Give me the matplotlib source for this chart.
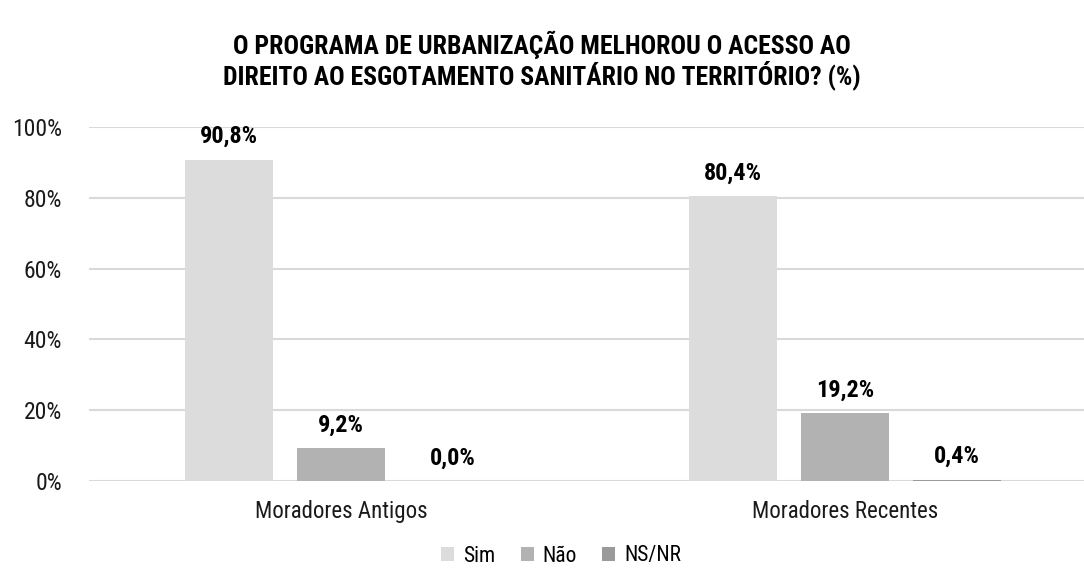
import matplotlib
matplotlib.use("Agg")
import matplotlib.pyplot as plt
from matplotlib import font_manager
import numpy as np

categories = ["Moradores Antigos", "Moradores Recentes"]
series_names = ["Sim", "Não", "NS/NR"]
sim = [90.8, 80.4]
nao = [9.2, 19.2]
nsnr = [0.0, 0.4]
labels_sim = ["90,8%", "80,4%"]
labels_nao = ["9,2%", "19,2%"]
labels_nsnr = ["0,0%", "0,4%"]
colors = ["#DCDCDC", "#B2B2B2", "#9A9A9A"]
yticks = [0, 20, 40, 60, 80, 100]
ytick_labels = ["0%", "20%", "40%", "60%", "80%", "100%"]
title = "O PROGRAMA DE URBANIZAÇÃO MELHOROU O ACESSO AO\nDIREITO AO ESGOTAMENTO SANITÁRIO NO TERRITÓRIO? (%)"

avail = {f.name for f in font_manager.fontManager.ttflist}
fam = "Roboto Condensed" if "Roboto Condensed" in avail else "Roboto"
plt.rcParams["font.family"] = [fam, "DejaVu Sans"]

fig = plt.figure(figsize=(10.84, 5.75), dpi=100)
W, H = 1084, 575
ax = fig.add_axes([89 / W, 1 - 481 / H, (1097 - 89) / W, (481 - 127) / H])

x = np.arange(len(categories))
bw = 88 / 504
off = 112 / 504
all_series = [sim, nao, nsnr]
all_labels = [labels_sim, labels_nao, labels_nsnr]
for i, (vals, labs) in enumerate(zip(all_series, all_labels)):
    pos = x + (i - 1) * off
    ax.bar(pos, vals, bw, color=colors[i], label=series_names[i], zorder=3)
    for p, v, t in zip(pos, vals, labs):
        ax.text(p, v + 6.5, t, ha="center", va="center", fontsize=17.5,
                fontweight="bold", color="#000000", zorder=4)

ax.set_xlim(-0.5, 1.5)
ax.set_ylim(0, 100)
ax.set_yticks(yticks)
ax.set_yticklabels(ytick_labels, fontsize=17, color="#1a1a1a")
ax.set_xticks(x)
ax.set_xticklabels(categories, fontsize=16.5, color="#1a1a1a")
ax.tick_params(axis="both", length=0)
ax.tick_params(axis="y", pad=19.5)
ax.tick_params(axis="x", pad=14)
ax.grid(axis="y", color="#D9D9D9", linewidth=1.5, zorder=0)
for s in ax.spines.values():
    s.set_visible(False)

fig.text(542 / W, 1 - 60 / H, title, ha="center", va="center", fontsize=18.5,
         fontweight="bold", linespacing=1.05)

handles, lbls = ax.get_legend_handles_labels()
fig.legend(handles, lbls, loc="center", bbox_to_anchor=(561 / W, 1 - 556 / H),
           ncol=3, frameon=False, fontsize=15.5, handlelength=0.6, handleheight=0.6,
           handletextpad=0.4, columnspacing=1.2)

fig.savefig("out.png", dpi=100)
